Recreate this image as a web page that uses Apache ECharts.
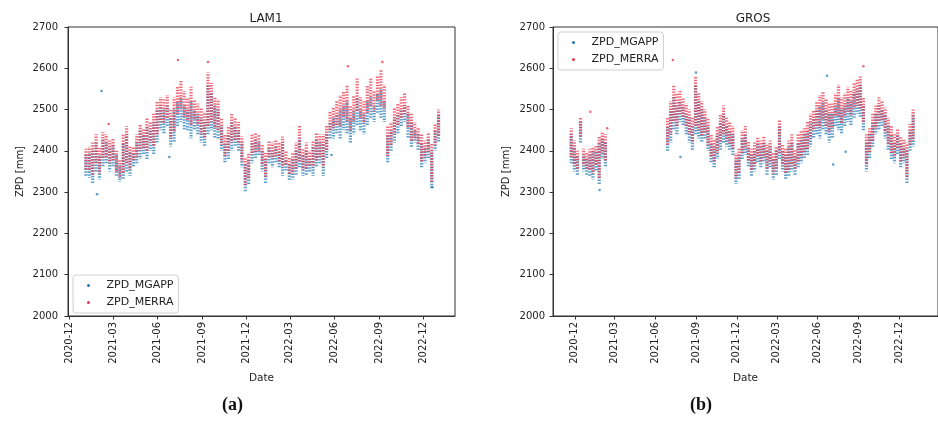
<!DOCTYPE html>
<html>
<head>
<meta charset="utf-8">
<script src="https://cdn.jsdelivr.net/npm/echarts@6/dist/echarts.min.js"></script>
<style>
html, body { margin: 0; padding: 0; background: #fff; }
#chart { width: 938px; height: 432px; }
</style>
</head>
<body>
<div id="chart"></div>
<script>
/*-----数据 S------*/
// weekly spread (low / high), ZPD in mm
var tickMonths = ['2020-12', '2021-03', '2021-06', '2021-09', '2021-12', '2022-03', '2022-06', '2022-09', '2022-12'];

var lam1Start = '2021-01-04';
var lam1MgappLo = [2340,2335,2320,2350,2330,2360,2370,2350,2360,2340, 2325,2330,2350,2340,2360,2370,2380,2390,2380,2400,
	2390,2420,2450,2440,2460,2410,2420,2460,2470,2450, 2450,2430,2450,2440,2420,2410,2440,2450,2430,2430,
	2400,2370,2380,2400,2410,2400,2360,2300,2320,2370, 2380,2390,2350,2320,2370,2360,2370,2360,2340,2350,
	2330,2330,2340,2360,2340,2340,2350,2340,2360,2370, 2340,2380,2430,2430,2440,2430,2450,2440,2420,2440,
	2460,2450,2440,2460,2480,2470,2490,2480,2470,2370, 2400,2420,2440,2460,2470,2430,2410,2420,2400,2360,
	2370,2380,2310,2400,2420];
var lam1MgappHi = [2390,2395,2400,2420,2390,2430,2420,2410,2415,2390, 2365,2420,2440,2400,2395,2420,2450,2440,2460,2450,
	2470,2500,2510,2500,2510,2480,2500,2520,2530,2510, 2500,2520,2500,2490,2480,2470,2560,2540,2510,2500,
	2460,2420,2440,2470,2460,2450,2420,2370,2380,2420, 2430,2420,2400,2380,2410,2400,2410,2400,2420,2380,
	2370,2380,2400,2430,2390,2400,2380,2410,2430,2420, 2420,2440,2470,2480,2490,2500,2510,2520,2480,2500,
	2530,2500,2490,2520,2530,2510,2540,2550,2520,2440, 2450,2480,2490,2500,2510,2490,2470,2450,2440,2420,
	2410,2430,2400,2450,2490];
var lam1MerraLo = [2355,2350,2340,2370,2345,2380,2385,2370,2375,2350, 2335,2345,2370,2355,2375,2385,2400,2405,2400,2420,
	2410,2440,2470,2465,2480,2430,2445,2490,2500,2480, 2475,2460,2475,2465,2440,2430,2460,2470,2455,2450,
	2415,2385,2400,2420,2425,2420,2375,2315,2335,2390, 2395,2400,2365,2335,2385,2380,2385,2375,2360,2365,
	2345,2345,2355,2375,2355,2355,2365,2360,2375,2385, 2360,2400,2450,2455,2460,2460,2480,2470,2450,2470,
	2495,2480,2465,2490,2510,2495,2520,2510,2500,2385, 2415,2440,2460,2480,2490,2455,2425,2430,2415,2375,
	2385,2395,2325,2415,2435];
var lam1MerraHi = [2405,2410,2420,2440,2410,2445,2440,2425,2430,2400, 2380,2440,2460,2410,2410,2440,2465,2455,2480,2470,
	2490,2520,2530,2525,2535,2500,2530,2555,2570,2545, 2530,2555,2525,2515,2505,2495,2590,2565,2530,2525,
	2480,2440,2460,2490,2480,2470,2435,2385,2395,2440, 2445,2440,2415,2395,2425,2420,2425,2420,2435,2400,
	2385,2395,2420,2460,2405,2420,2400,2425,2445,2440, 2440,2460,2495,2505,2520,2535,2545,2560,2510,2535,
	2575,2530,2520,2560,2575,2545,2580,2595,2560,2460, 2470,2505,2515,2530,2540,2510,2490,2470,2455,2440,
	2425,2445,2420,2465,2500];
var lam1MgappOut = [['2021-01-27', 2295], ['2021-02-05', 2545], ['2021-06-25', 2385], ['2022-05-26', 2390], ['2022-12-20', 2312]];
var lam1MerraOut = [['2021-07-13', 2620], ['2021-09-13', 2615], ['2022-06-29', 2605], ['2022-09-08', 2615], ['2021-02-20', 2465]];

var grosWinterStart = '2020-11-23';
var grosWinterMgappLo = [2370,2350,2340,2420,2350,2340,2340,2330,2350,2320,2380,2360];
var grosWinterMgappHi = [2440,2410,2390,2470,2390,2380,2390,2400,2400,2420,2430,2420];
var grosWinterMerraLo = [2385,2365,2355,2435,2365,2355,2355,2345,2365,2335,2395,2375];
var grosWinterMerraHi = [2455,2425,2400,2480,2405,2395,2405,2410,2415,2435,2445,2440];

var grosStart = '2021-06-28';
var grosMgappLo = [2400,2420,2450,2440,2470,2460,2440,2420,2400,2440, 2430,2420,2430,2400,2370,2360,2380,2400,2420,2410,
	2400,2390,2320,2330,2380,2390,2360,2340,2350,2370, 2360,2370,2340,2360,2330,2340,2380,2350,2330,2340,
	2350,2340,2360,2370,2380,2390,2410,2430,2440,2430, 2450,2440,2420,2430,2460,2450,2440,2460,2470,2460,
	2480,2490,2480,2450,2350,2380,2410,2440,2450,2460, 2430,2400,2380,2370,2390,2360,2370,2320,2400,2410];
var grosMgappHi = [2460,2500,2530,2510,2520,2510,2490,2480,2460,2560, 2520,2500,2480,2460,2420,2410,2440,2470,2490,2460,
	2450,2440,2380,2390,2430,2440,2410,2390,2400,2420, 2410,2420,2400,2410,2380,2400,2460,2400,2390,2410,
	2420,2390,2420,2430,2440,2450,2470,2480,2500,2510, 2520,2500,2490,2490,2510,2530,2500,2510,2530,2520,
	2540,2550,2560,2510,2420,2440,2470,2490,2510,2500, 2490,2460,2440,2420,2440,2420,2410,2400,2450,2490];
var grosMerraLo = [2415,2440,2470,2460,2490,2480,2460,2440,2420,2460, 2450,2435,2445,2415,2385,2375,2395,2420,2440,2425,
	2415,2405,2335,2345,2395,2405,2375,2355,2365,2385, 2375,2385,2355,2375,2345,2355,2395,2365,2345,2355,
	2365,2355,2375,2385,2395,2405,2430,2450,2460,2455, 2475,2460,2445,2455,2485,2480,2465,2485,2495,2485,
	2505,2510,2500,2470,2365,2395,2425,2455,2470,2475, 2445,2415,2395,2385,2405,2375,2385,2335,2415,2425];
var grosMerraHi = [2480,2520,2560,2540,2545,2530,2515,2500,2480,2580, 2540,2520,2500,2480,2440,2430,2460,2490,2510,2480,
	2470,2460,2395,2405,2450,2460,2425,2405,2420,2435, 2425,2435,2415,2425,2395,2410,2475,2415,2405,2425,
	2440,2405,2440,2450,2455,2470,2490,2500,2520,2535, 2545,2525,2515,2515,2540,2560,2530,2540,2555,2545,
	2565,2575,2580,2530,2440,2455,2490,2510,2530,2520, 2505,2480,2460,2440,2455,2435,2430,2420,2465,2500];
var grosMgappOut = [['2021-08-31', 2590], ['2022-06-22', 2582], ['2021-07-27', 2385], ['2022-08-03', 2398], ['2022-07-06', 2367], ['2021-01-26', 2305]];
var grosMerraOut = [['2021-07-10', 2620], ['2022-09-12', 2605], ['2021-01-05', 2495], ['2021-02-12', 2455]];
/*-----数据 E------*/

var DAY = 86400000;
var colorMgapp = '#1f77b4';
var colorMerra = '#e8334a';
var fontName = '"DejaVu Sans", sans-serif';

function toTime(s){
	return +new Date(s);
}
function buildRanges(start, lo, hi){
	var t0 = toTime(start);
	var list = [];
	for(var i = 0; i < lo.length; i++){
		list.push([t0 + i * 7 * DAY, lo[i], hi[i]]);
	}
	return list;
}
function buildPoints(arr){
	var list = [];
	for(var i = 0; i < arr.length; i++){
		list.push([toTime(arr[i][0]), arr[i][1]]);
	}
	return list;
}
var tickValues = [];
for(var i = 0; i < tickMonths.length; i++){
	tickValues.push(toTime(tickMonths[i] + '-01'));
}
function tickLabel(val){
	for(var i = 0; i < tickValues.length; i++){
		if(Math.abs(tickValues[i] - val) < DAY){
			return tickMonths[i];
		}
	}
	return '';
}

function rangeSeries(name, color, data, idx){
	return {
		name: name,
		type: 'custom',
		xAxisIndex: idx,
		yAxisIndex: idx,
		itemStyle: { color: color },
		encode: { x: 0, y: [1, 2] },
		data: data,
		renderItem: function(params, api){
			var a = api.coord([api.value(0), api.value(1)]);
			var b = api.coord([api.value(0), api.value(2)]);
			return {
				type: 'line',
				shape: { x1: a[0], y1: a[1], x2: b[0], y2: b[1] },
				style: {
					stroke: color,
					lineWidth: 3.2,
					lineDash: [1.5, 1.3],
					lineDashOffset: (params.dataIndex % 3) * 0.9,
					opacity: 0.72
				}
			};
		}
	};
}
function pointSeries(name, color, data, idx){
	return {
		name: name,
		type: 'scatter',
		xAxisIndex: idx,
		yAxisIndex: idx,
		symbolSize: 2.5,
		itemStyle: { color: color, opacity: 0.75 },
		data: data
	};
}
function xAxisOf(idx, min, max){
	return {
		type: 'value',
		gridIndex: idx,
		min: toTime(min),
		max: toTime(max),
		name: 'Date',
		nameLocation: 'middle',
		nameGap: 57,
		nameTextStyle: { fontSize: 10.5, color: '#222', fontFamily: fontName },
		axisLine: { lineStyle: { color: '#333', width: 1 } },
		axisTick: { show: true, length: 3.5, customValues: tickValues, lineStyle: { color: '#333' } },
		axisLabel: {
			customValues: tickValues,
			rotate: 90,
			fontSize: 10,
			color: '#222',
			fontFamily: fontName,
			margin: 6,
			formatter: tickLabel
		},
		splitLine: { show: false }
	};
}
function yAxisOf(idx, gap, margin){
	return {
		type: 'value',
		gridIndex: idx,
		min: 2000,
		max: 2700,
		interval: 100,
		name: 'ZPD [mm]',
		nameLocation: 'middle',
		nameGap: gap,
		nameTextStyle: { fontSize: 10, color: '#222', fontFamily: fontName },
		axisLine: { show: true, lineStyle: { color: '#333', width: 1 } },
		axisTick: { show: true, length: 3.5, lineStyle: { color: '#333' } },
		axisLabel: {
			fontSize: 10, color: '#222', fontFamily: fontName, margin: margin,
			formatter: function(v){ return String(v); }
		},
		splitLine: { show: false }
	};
}
function legendOf(pos){
	var opt = {
		orient: 'vertical',
		data: [
			{ name: 'ZPD_MGAPP', icon: 'circle' },
			{ name: 'ZPD_MERRA', icon: 'circle' }
		],
		itemWidth: 26,
		itemHeight: 3,
		itemGap: 6,
		padding: [5, 5, 5, 14],
		borderColor: '#d0d0d0',
		borderWidth: 1,
		borderRadius: 3,
		backgroundColor: '#fff',
		textStyle: { fontSize: 11, color: '#222', fontFamily: fontName },
		selectedMode: false
	};
	for(var k in pos){
		opt[k] = pos[k];
	}
	return opt;
}

var lam1Mgapp = buildRanges(lam1Start, lam1MgappLo, lam1MgappHi);
var lam1Merra = buildRanges(lam1Start, lam1MerraLo, lam1MerraHi);
var grosMgapp = buildRanges(grosWinterStart, grosWinterMgappLo, grosWinterMgappHi).concat(buildRanges(grosStart, grosMgappLo, grosMgappHi));
var grosMerra = buildRanges(grosWinterStart, grosWinterMerraLo, grosWinterMerraHi).concat(buildRanges(grosStart, grosMerraLo, grosMerraHi));

var option = {
	backgroundColor: '#fff',
	animation: false,
	title: [
		{ text: 'LAM1', left: 261, top: 8, textAlign: 'center', textStyle: { fontSize: 12, fontWeight: 'normal', color: '#222', fontFamily: fontName } },
		{ text: 'GROS', left: 748, top: 8, textAlign: 'center', textStyle: { fontSize: 12, fontWeight: 'normal', color: '#222', fontFamily: fontName } }
	],
	grid: [
		{ left: 68, top: 27, width: 387, height: 289, show: true, borderColor: '#333', borderWidth: 1, backgroundColor: 'transparent' },
		{ left: 553, top: 27, width: 397, height: 289, show: true, borderColor: '#333', borderWidth: 1, backgroundColor: 'transparent' }
	],
	legend: [
		legendOf({ left: 73, top: 275 }),
		legendOf({ left: 558, top: 32 })
	],
	xAxis: [
		xAxisOf(0, '2020-11-28', '2023-02-05'),
		xAxisOf(1, '2020-10-13', '2023-02-27')
	],
	yAxis: [
		yAxisOf(0, 43, 10),
		yAxisOf(1, 42, 8)
	],
	series: [
		rangeSeries('ZPD_MGAPP', colorMgapp, lam1Mgapp, 0),
		rangeSeries('ZPD_MERRA', colorMerra, lam1Merra, 0),
		pointSeries('ZPD_MGAPP', colorMgapp, buildPoints(lam1MgappOut), 0),
		pointSeries('ZPD_MERRA', colorMerra, buildPoints(lam1MerraOut), 0),
		rangeSeries('ZPD_MGAPP', colorMgapp, grosMgapp, 1),
		rangeSeries('ZPD_MERRA', colorMerra, grosMerra, 1),
		pointSeries('ZPD_MGAPP', colorMgapp, buildPoints(grosMgappOut), 1),
		pointSeries('ZPD_MERRA', colorMerra, buildPoints(grosMerraOut), 1)
	],
	graphic: [
		{ type: 'text', left: 222, top: 396, style: { text: '(a)', font: 'bold 18px "Liberation Serif", serif', fill: '#111' } },
		{ type: 'text', left: 690, top: 396, style: { text: '(b)', font: 'bold 18px "Liberation Serif", serif', fill: '#111' } }
	]
};
echarts.init(document.getElementById('chart')).setOption(option, true);
</script>
</body>
</html>
